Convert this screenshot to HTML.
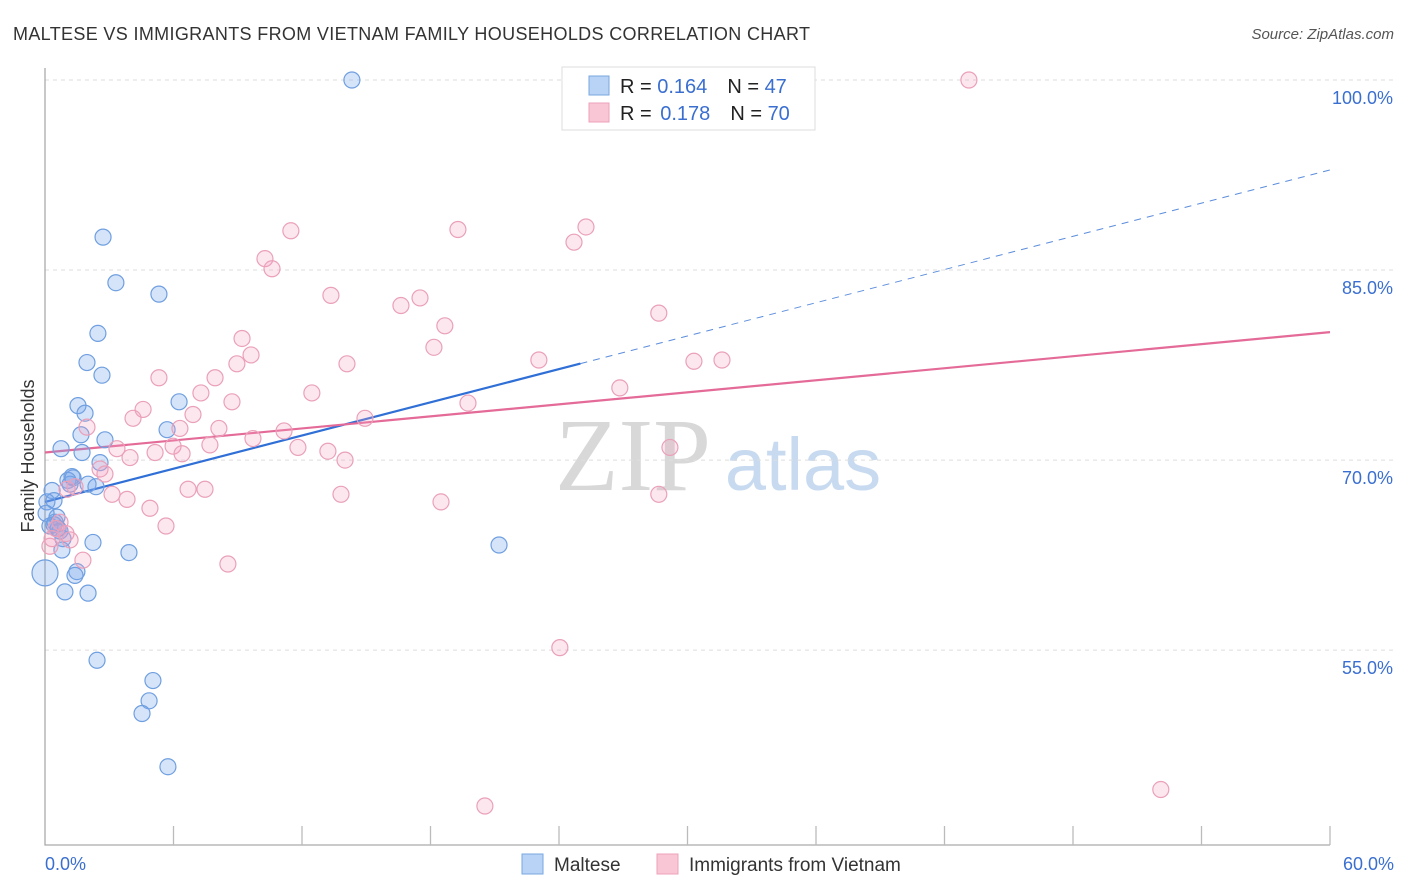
<!DOCTYPE html>
<html><head><meta charset="utf-8"><style>
body{margin:0;background:#fff;font-family:"Liberation Sans",sans-serif;}
svg{display:block}
</style></head><body>
<svg id="chart" width="1406" height="892" viewBox="0 0 1406 892">
<text x="13" y="40" font-size="18" fill="#333" textLength="797">MALTESE VS IMMIGRANTS FROM VIETNAM FAMILY HOUSEHOLDS CORRELATION CHART</text>
<text x="1394" y="39" font-size="15" fill="#555" font-style="italic" text-anchor="end">Source: ZipAtlas.com</text>
<text x="633" y="490" font-size="104" fill="#d8d8d8" font-family="Liberation Serif,serif" text-anchor="middle">ZIP</text>
<text x="803" y="490" font-size="74" fill="#c8daf0" text-anchor="middle">atlas</text>
<g id="grid"></g><g id="axes"></g><g id="lines"></g><g id="pts"></g>
<text transform="translate(34,456) rotate(-90)" font-size="18" fill="#333" text-anchor="middle">Family Households</text>
<g>
<rect x="562" y="67" width="253" height="63" fill="#fff" stroke="#ddd"/>
<rect x="589" y="76" width="20" height="19" fill="#b8d3f5" stroke="#7aa7e0"/>
<rect x="589" y="103" width="20" height="19" fill="#f9c6d6" stroke="#eda1ba"/>
<text x="620" y="93" font-size="20" fill="#222">R = <tspan fill="#3a6fd0">0.164</tspan><tspan dx="20">N = </tspan><tspan fill="#3a6fd0">47</tspan></text>
<text x="620" y="120" font-size="20" fill="#222">R = <tspan fill="#3a6fd0" dx="3">0.178</tspan><tspan dx="20">N = </tspan><tspan fill="#3a6fd0">70</tspan></text>
</g>
<g>
<rect x="522" y="854" width="21" height="20" fill="#b8d3f5" stroke="#7aa7e0"/>
<text x="554" y="871" font-size="19" fill="#333">Maltese</text>
<rect x="657" y="854" width="21" height="20" fill="#f9c6d6" stroke="#eda1ba"/>
<text x="689" y="871" font-size="19" fill="#333">Immigrants from Vietnam</text>
</g>
</svg>
<script>
const yTicks=[100,85,70,55];
const xTickLabels=["0.0%","60.0%"];
const malteseX=[14.33,2.71,3.31,5.32,2.47,1.96,2.66,1.54,1.87,6.26,5.70,1.68,2.80,0.75,1.73,2.57,1.26,1.07,1.17,2.01,2.38,0.33,0.42,0.09,0.56,0.47,0.23,0.61,0.84,2.24,0.79,3.92,1.49,1.40,0,0.93,2.01,2.43,5.04,4.86,4.53,5.74,21.2,0.42,0.70,0.05,1.31];
const malteseY=[100.0,87.6,84.0,83.1,80.0,77.7,76.7,74.3,73.7,74.6,72.4,72.0,71.6,70.9,70.6,69.8,68.7,68.4,68.1,68.1,67.9,67.6,66.8,66.7,65.5,65.1,64.8,64.6,63.8,63.5,62.9,62.7,61.2,60.9,61.1,59.6,59.5,54.2,52.6,51.0,50.0,45.8,63.3,64.9,64.4,65.8,68.6];
const malteseR=[8,8,8,8,8,8,8,8,8,8,8,8,8,8,8,8,8,8,8,8,8,8,8,8,8,8,8,8,8,8,8,8,8,8,13,8,8,8,8,8,8,8,8,8,8,8,8];
const vietX=[43.14,11.48,19.28,25.26,24.70,10.27,10.60,13.35,17.51,16.62,28.66,18.67,9.20,18.16,9.62,8.96,14.10,23.06,30.30,31.61,5.32,7.94,26.84,7.28,12.46,8.73,4.58,19.75,6.91,4.11,14.94,1.96,6.30,8.12,11.16,9.71,7.70,3.36,5.14,5.98,6.40,11.81,13.21,29.18,14.01,3.97,2.57,2.80,1.40,1.03,6.68,7.47,3.13,3.83,13.82,28.66,4.90,18.49,5.65,0.70,0.51,1.17,0.23,1.77,8.54,24.04,52.10,20.54,0.33,0.98];
const vietY=[100.0,88.1,88.2,88.4,87.2,85.9,85.1,83.0,82.8,82.2,81.6,80.6,79.6,78.9,78.3,77.6,77.6,77.9,77.8,77.9,76.5,76.5,75.7,75.3,75.3,74.6,74.0,74.5,73.6,73.3,73.3,72.6,72.5,72.5,72.3,71.7,71.2,70.9,70.6,71.1,70.5,71.0,70.7,71.0,70.0,70.2,69.3,68.9,67.9,67.7,67.7,67.7,67.3,66.9,67.3,67.3,66.2,66.7,64.8,65.1,64.6,63.7,63.2,62.1,61.8,55.2,44.0,42.7,63.8,64.2];
const maltTrend=[66.7,92.9]; const maltSolidEnd=25.0;
const vietTrend=[70.6,80.1];
const NS="http://www.w3.org/2000/svg";
const X0=45,X1=1330,Ytop=80,pxPerPct=12.67;
const xs=v=>X0+v/60*(X1-X0);
const ys=v=>Ytop+(100-v)*pxPerPct;
function mk(t,a,p){const e=document.createElementNS(NS,t);for(const k in a)e.setAttribute(k,a[k]);p.appendChild(e);return e;}
const grid=document.getElementById('grid'),axes=document.getElementById('axes');
yTicks.forEach(t=>{
 const l=mk('line',{x1:X0,x2:1394,y1:ys(t),y2:ys(t),stroke:'#ddd','stroke-dasharray':'4,4'},grid);
 
 
 const tx=mk('text',{x:1393,y:ys(t)+24,'font-size':18,fill:'#3a6fd0','text-anchor':'end'},axes);
 tx.textContent=t.toFixed(1)+'%';
 
 
});
const ax=mk('path',{d:`M${X0} 68 V845 H${X1}`,stroke:'#aaa',fill:'none','stroke-width':1.3},axes);


for(let i=1;i<=10;i++){const x=xs(i*6);const t=mk('line',{x1:x,x2:x,y1:826,y2:845,stroke:'#bbb','stroke-width':1.3},axes);
 
 }
[[0,'start',45],[60,'end',1394]].forEach((d,i)=>{const t=mk('text',{x:d[2],y:870,'font-size':18,fill:'#3a6fd0','text-anchor':d[1]},axes);t.textContent=xTickLabels[i];
 
 });
const pts=document.getElementById('pts');
malteseX.forEach((x,i)=>{const c=mk('circle',{cx:xs(x),cy:ys(malteseY[i]),r:malteseR[i],fill:'rgba(120,165,235,0.3)',stroke:'#6f9fe0','stroke-width':1.2},pts);
 
 });
vietX.forEach((x,i)=>{const c=mk('circle',{cx:xs(x),cy:ys(vietY[i]),r:8,fill:'rgba(245,160,190,0.25)',stroke:'#eaa0b9','stroke-width':1.2},pts);
 
 });
const lines=document.getElementById('lines');
const mt=x=>maltTrend[0]+(maltTrend[1]-maltTrend[0])*x/60;
const l1=mk('line',{x1:xs(0),y1:ys(mt(0)),x2:xs(maltSolidEnd),y2:ys(mt(maltSolidEnd)),stroke:'#2f6fd6','stroke-width':2.2},lines);


const l2=mk('line',{x1:xs(maltSolidEnd),y1:ys(mt(maltSolidEnd)),x2:xs(60),y2:ys(mt(60)),stroke:'#5b8ddc','stroke-width':1,'stroke-dasharray':'7,6'},lines);


const l3=mk('line',{x1:xs(0),y1:ys(vietTrend[0]),x2:xs(60),y2:ys(vietTrend[1]),stroke:'#e46a98','stroke-width':2.2},lines);


</script>
</body></html>
